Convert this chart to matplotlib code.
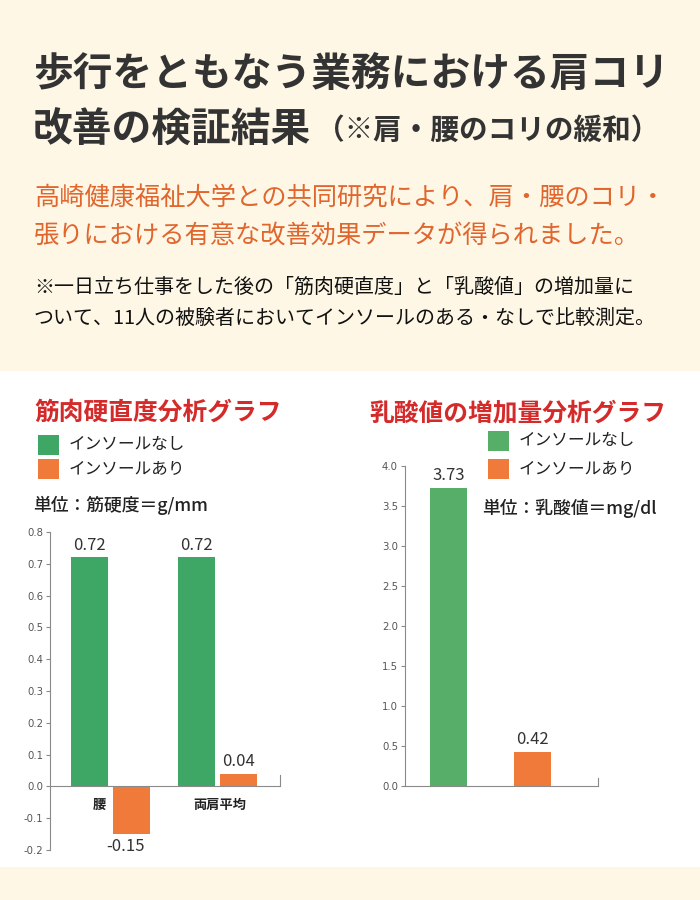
import matplotlib
matplotlib.use("Agg")
import matplotlib.pyplot as plt
import matplotlib.transforms as mtransforms
from matplotlib.patches import Rectangle

plt.rcParams['font.family'] = ['Noto Sans CJK JP', 'DejaVu Sans']

# ---- data ----
title_line1 = "歩行をともなう業務における肩コリ"
title_line2a = "改善の検証結果"
title_line2b = "（※肩・腰のコリの緩和）"
sub_line1 = "高崎健康福祉大学との共同研究により、肩・腰のコリ・"
sub_line2 = "張りにおける有意な改善効果データが得られました。"
note_line1 = "※一日立ち仕事をした後の「筋肉硬直度」と「乳酸値」の増加量に"
note_line2 = "ついて、11人の被験者においてインソールのある・なしで比較測定。"

legend_labels = ["インソールなし", "インソールあり"]

left_title = "筋肉硬直度分析グラフ"
left_unit = "単位：筋硬度＝g/mm"
left_categories = ["腰", "両肩平均"]
left_without = [0.72, 0.72]
left_with = [-0.15, 0.04]
left_ticks = [-0.2, -0.1, 0.0, 0.1, 0.2, 0.3, 0.4, 0.5, 0.6, 0.7, 0.8]

right_title = "乳酸値の増加量分析グラフ"
right_unit = "単位：乳酸値＝mg/dl"
right_values = [3.73, 0.42]
right_ticks = [0.0, 0.5, 1.0, 1.5, 2.0, 2.5, 3.0, 3.5, 4.0]

# ---- styles ----
CREAM = "#FEF7E6"
GREEN_L = "#3EA766"
GREEN_R = "#56AE68"
ORANGE = "#F07A3A"
RED = "#D42A2A"
DARK = "#333333"
SPINE = "#8a8a8a"

W, H = 700, 900
fig = plt.figure(figsize=(7, 9), dpi=100)
fig.patch.set_facecolor("white")

def fx(px):
    return px / W

def fy(py):
    return 1 - py / H

# backgrounds
fig.patches.append(Rectangle((0, fy(371)), 1, 371 / H, transform=fig.transFigure,
                             facecolor=CREAM, edgecolor="none", zorder=-10))
fig.patches.append(Rectangle((0, 0), 1, (H - 867) / H, transform=fig.transFigure,
                             facecolor=CREAM, edgecolor="none", zorder=-10))

# header texts
fig.text(fx(33), fy(75), title_line1, fontsize=28.6, fontweight="bold", color=DARK,
         va="center", ha="left")
fig.text(fx(33), fy(130), title_line2a, fontsize=28.6, fontweight="bold", color=DARK,
         va="center", ha="left")
fig.text(fx(316), fy(130), title_line2b, fontsize=20.6, fontweight="bold", color=DARK,
         va="center", ha="left")
fig.text(fx(34), fy(198), sub_line1, fontsize=18.2, color="#E0662E", va="center", ha="left")
fig.text(fx(34), fy(236), sub_line2, fontsize=18.2, color="#E0662E", va="center", ha="left")
fig.text(fx(34), fy(287), note_line1, fontsize=14.4, color="#111111", va="center", ha="left")
fig.text(fx(34), fy(318), note_line2, fontsize=14.4, color="#111111", va="center", ha="left")

# chart titles
fig.text(fx(34), fy(413), left_title, fontsize=17.8, fontweight="bold", color=RED,
         va="center", ha="left")
fig.text(fx(369), fy(413), right_title, fontsize=17.8, fontweight="bold", color=RED,
         va="center", ha="left")

# legends
def legend_item(x, y, color, label):
    fig.patches.append(Rectangle((fx(x), fy(y + 10)), 21 / W, 20 / H,
                                 transform=fig.transFigure, facecolor=color,
                                 edgecolor="none"))
    fig.text(fx(x + 31), fy(y), label, fontsize=12, color="#222222",
             va="center", ha="left")

legend_item(38, 445, GREEN_L, legend_labels[0])
legend_item(38, 469, ORANGE, legend_labels[1])
legend_item(488, 441, GREEN_R, legend_labels[0])
legend_item(488, 469, ORANGE, legend_labels[1])

fig.text(fx(33), fy(505), left_unit, fontsize=12.8, fontweight="medium", color="#222222",
         va="center", ha="left")
fig.text(fx(482), fy(508), right_unit, fontsize=12.8, fontweight="medium", color="#222222",
         va="center", ha="left")

def style_axis(ax):
    ax.set_facecolor("none")
    for s in ["top", "right"]:
        ax.spines[s].set_visible(False)
    ax.spines["left"].set_color(SPINE)
    ax.spines["left"].set_linewidth(0.8)
    ax.tick_params(axis="y", length=3, width=0.8, color=SPINE, labelsize=7.3,
                   labelcolor="#555555", pad=2)
    ax.tick_params(axis="x", length=0)
    ax.set_xticks([])

# ---- left chart ----
axL = fig.add_axes([fx(50), fy(850), 230 / W, 318 / H])
style_axis(axL)
axL.spines["bottom"].set_visible(False)
bw = 0.345
xs = list(range(len(left_categories)))
axL.bar([x - bw / 2 - 0.02 for x in xs], left_without, width=bw, color=GREEN_L)
axL.bar([x + bw / 2 + 0.02 for x in xs], left_with, width=bw, color=ORANGE)
axL.set_xlim(-0.565, 1.584)
axL.set_ylim(-0.2, 0.8)
axL.set_yticks(left_ticks)
axL.set_yticklabels([f"{t:.1f}" for t in left_ticks], fontfamily="DejaVu Sans")
axL.axhline(0, color=SPINE, linewidth=0.8)
axL.plot([1, 1], [0, 0.035],
         transform=mtransforms.blended_transform_factory(axL.transAxes, axL.transData),
         color=SPINE, linewidth=0.8, clip_on=False)
for x, v in zip(xs, left_without):
    axL.text(x - bw / 2 - 0.02, v + 0.012, f"{v:.2f}", ha="center", va="bottom",
             fontsize=12, color="#333333")
for x, v in zip(xs, left_with):
    if v >= 0:
        axL.text(x + bw / 2 + 0.02, v + 0.012, f"{v:.2f}", ha="center", va="bottom",
                 fontsize=12, color="#333333")
    else:
        axL.text(x + bw / 2 + 0.02 - 0.05, v - 0.012, f"{v:.2f}", ha="center", va="top",
                 fontsize=12, color="#333333")
cat_x = [-0.1, 1.02]
for cx, c in zip(cat_x, left_categories):
    axL.text(cx, -0.057, c, ha="center", va="center", fontsize=9.5, fontweight="bold",
             color="#222222")

# ---- right chart ----
axR = fig.add_axes([fx(405), fy(786), 193 / W, 320 / H])
style_axis(axR)
axR.spines["bottom"].set_color(SPINE)
axR.spines["bottom"].set_linewidth(0.8)
rx = [0, 1]
axR.bar(rx, right_values, width=0.443, color=[GREEN_R, ORANGE])
axR.set_xlim(-0.521, 1.79)
axR.set_ylim(0, 4.0)
axR.set_yticks(right_ticks)
axR.set_yticklabels([f"{t:.1f}" for t in right_ticks], fontfamily="DejaVu Sans")
axR.plot([1, 1], [0, 0.1],
         transform=mtransforms.blended_transform_factory(axR.transAxes, axR.transData),
         color=SPINE, linewidth=0.8, clip_on=False)
for x, v in zip(rx, right_values):
    axR.text(x, v + 0.05, f"{v:.2f}", ha="center", va="bottom", fontsize=12,
             color="#333333")

fig.savefig("out.png", dpi=100, facecolor=fig.get_facecolor())
